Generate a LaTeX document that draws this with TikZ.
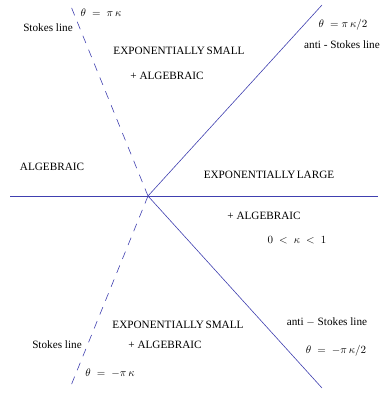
\documentclass[tikz,border=0pt]{standalone}
\usepackage{fontspec}
\setmainfont{Liberation Serif}
\definecolor{lineblue}{RGB}{64,64,176}
\tikzset{
  sector/.style = {
    line width=0.6pt,
    color=lineblue
  },
  lbl/.style = {
    font=\fontsize{11.2}{13}\selectfont,
    inner sep=0pt
  }
}

\begin{document}
\begin{tikzpicture}[x=1pt,y=-1pt]
  \useasboundingbox (0,0) rectangle (381,394);
  %
  \coordinate (O) at (148,196);
  \coordinate (W) at (10,196);
  \coordinate (E) at (378,196);
  \coordinate (ASu) at (322,5);
  \coordinate (ASd) at (322,388);
  \coordinate (Su) at (70,4);
  \coordinate (Sd) at (70,388);
  %
  \draw[sector] (W) -- (E);
  \draw[sector] (O) -- (ASu);
  \draw[sector] (O) -- (ASd);
  \draw[sector,dashed,dash pattern=on 8pt off 7pt] (O) -- (Su);
  \draw[sector,dashed,dash pattern=on 8pt off 7pt] (O) -- (Sd);
  % upper labels
  \node[lbl] (thSu) at (101,13) {$\theta\;=\;\pi\,\kappa$};
  \node[lbl] (Stu) at (48,28) {Stokes line};
  \node[lbl] (ESu) at (179,51) {EXPONENTIALLY\hspace{1.5pt}SMALL};
  \node[lbl] (ALu) at (167,76) {+ ALGEBRAIC};
  \node[lbl] (thASu) at (343,25) {$\theta\;=\pi\,\kappa/2$};
  \node[lbl,anchor=east] (ASTu) at (380,45) {anti - Stokes line};
  % middle labels
  \node[lbl] (AL) at (52,167) {ALGEBRAIC};
  \node[lbl] (EL) at (269,175) {EXPONENTIALLY\hspace{1.5pt}LARGE};
  \node[lbl] (ALr) at (264,216) {+ ALGEBRAIC};
  \node[lbl] (kap) at (297,240) {$0\;<\;\kappa\;<\;1$};
  % lower labels
  \node[lbl] (ESd) at (178,325) {EXPONENTIALLY\hspace{1.5pt}SMALL};
  \node[lbl] (ALd) at (165,345) {+ ALGEBRAIC};
  \node[lbl] (Std) at (57,345) {Stokes line};
  \node[lbl] (thSd) at (110,373) {$\theta\;=\;-\pi\,\kappa$};
  \node[lbl] (ASTd) at (327,322) {anti $-$ Stokes line};
  \node[lbl] (thASd) at (336,351) {$\theta\;=\;-\pi\,\kappa/2$};
\end{tikzpicture}
\end{document}
